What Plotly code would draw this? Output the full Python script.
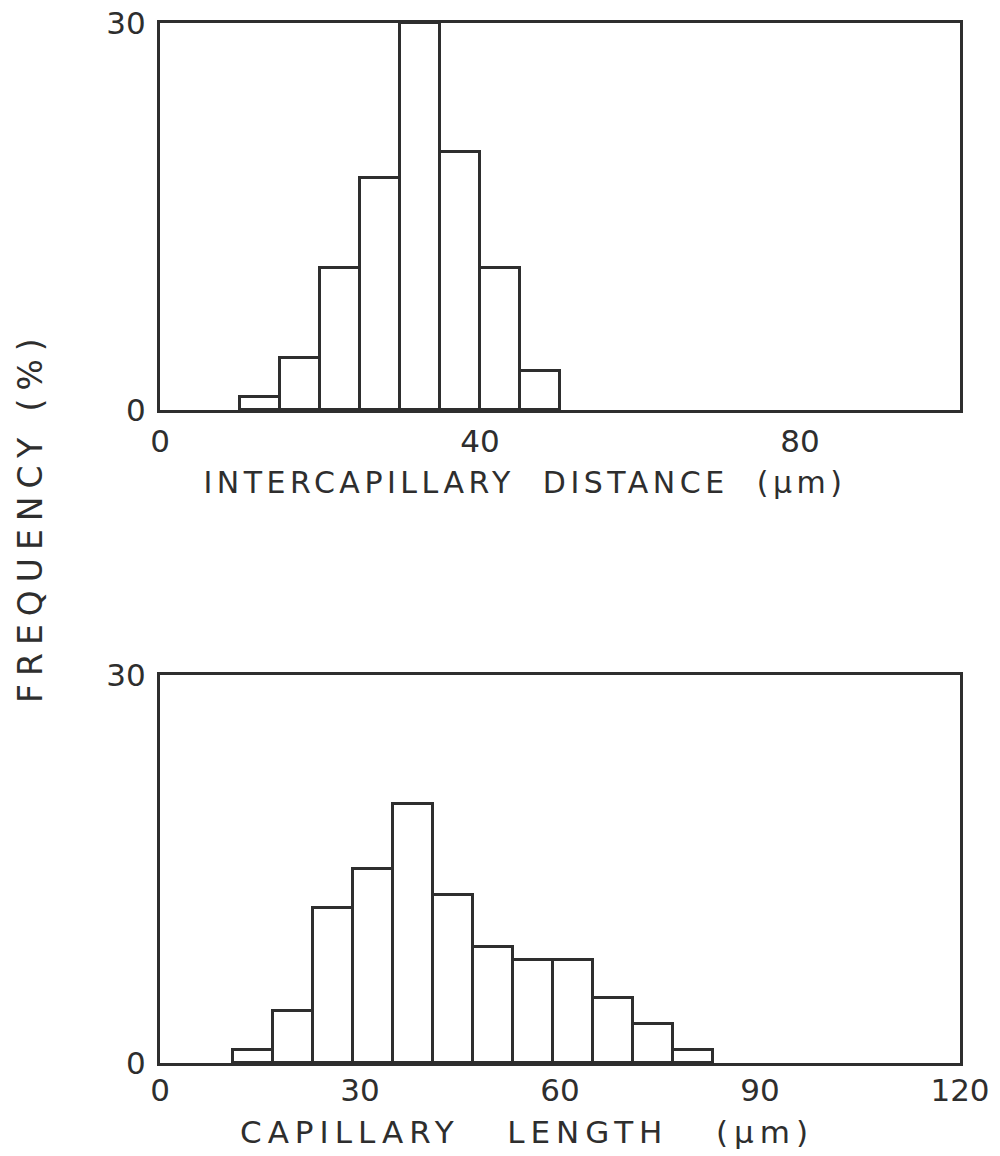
import plotly.graph_objects as go

# Top histogram: intercapillary distance (bins of 5 um)
dist_bin_left = [10, 15, 20, 25, 30, 35, 40, 45]
dist_freq = [1, 4, 11, 18, 30, 20, 11, 3]
dist_ticks = [0, 40, 80]

# Bottom histogram: capillary length (bins of 6 um)
len_bin_left = [11, 17, 23, 29, 35, 41, 47, 53, 59, 65, 71, 77]
len_freq = [1, 4, 12, 15, 20, 13, 9, 8, 8, 5, 3, 1]
len_ticks = [0, 30, 60, 90, 120]

y_ticks = [0, 30]

INK = "#2e2e2e"
FONT = "DejaVu Sans"

fig = go.Figure()

fig.add_trace(go.Bar(
    x=[b + 2.5 for b in dist_bin_left], y=dist_freq, width=5,
    marker=dict(color="white", line=dict(color=INK, width=3)),
    xaxis="x", yaxis="y", showlegend=False,
))
fig.add_trace(go.Bar(
    x=[b + 3 for b in len_bin_left], y=len_freq, width=6,
    marker=dict(color="white", line=dict(color=INK, width=3)),
    xaxis="x2", yaxis="y2", showlegend=False,
))

axis_common = dict(
    showline=True, linecolor=INK, linewidth=3, mirror=True,
    showgrid=False, zeroline=False, ticks="", automargin=False,
    tickfont=dict(family=FONT, size=31, color=INK),
)

fig.update_layout(
    width=1000, height=1156,
    margin=dict(l=0, r=0, t=0, b=0, autoexpand=False),
    paper_bgcolor="white", plot_bgcolor="white",
    bargap=0,
    xaxis=dict(domain=[0.16, 0.96], range=[0, 100], tickvals=dist_ticks,
               anchor="y", ticklabelstandoff=2, **axis_common),
    yaxis=dict(domain=[0.6453, 0.9801], range=[0, 30], tickvals=y_ticks,
               anchor="x", ticklabelstandoff=5, **axis_common),
    xaxis2=dict(domain=[0.16, 0.96], range=[0, 120], tickvals=len_ticks,
                anchor="y2", ticklabelstandoff=-2, **axis_common),
    yaxis2=dict(domain=[0.0804, 0.4161], range=[0, 30], tickvals=y_ticks,
                anchor="x2", ticklabelstandoff=5, **axis_common),
    annotations=[
        dict(text="INTERCAPILLARY  DISTANCE  (\u00b5m)", xref="paper", yref="paper",
             x=0.525, y=1 - 482 / 1156, xanchor="center", yanchor="middle",
             showarrow=False, font=dict(family=FONT, size=30, color=INK)),
        dict(text="CAPILLARY   LENGTH   (\u00b5m)", xref="paper", yref="paper",
             x=0.527, y=1 - 1132 / 1156, xanchor="center", yanchor="middle",
             showarrow=False, font=dict(family=FONT, size=31, color=INK)),
        dict(text="FREQUENCY (%)", xref="paper", yref="paper",
             x=0.03, y=1 - 517 / 1156, xanchor="center", yanchor="middle",
             textangle=-90, showarrow=False,
             font=dict(family=FONT, size=33, color=INK)),
    ],
)

# widen the letter spacing of the hand-lettered titles
post_js = """
var gd = document.getElementById('{plot_id}');
var sp = ['4.5px', '6px', '8px'];
function spread() {
  var t = gd.querySelectorAll('.annotation-text');
  for (var i = 0; i < t.length && i < sp.length; i++) { t[i].style.letterSpacing = sp[i]; }
}
spread();
gd.on('plotly_afterplot', spread);
"""

fig.write_html("out.html", post_script=post_js)
